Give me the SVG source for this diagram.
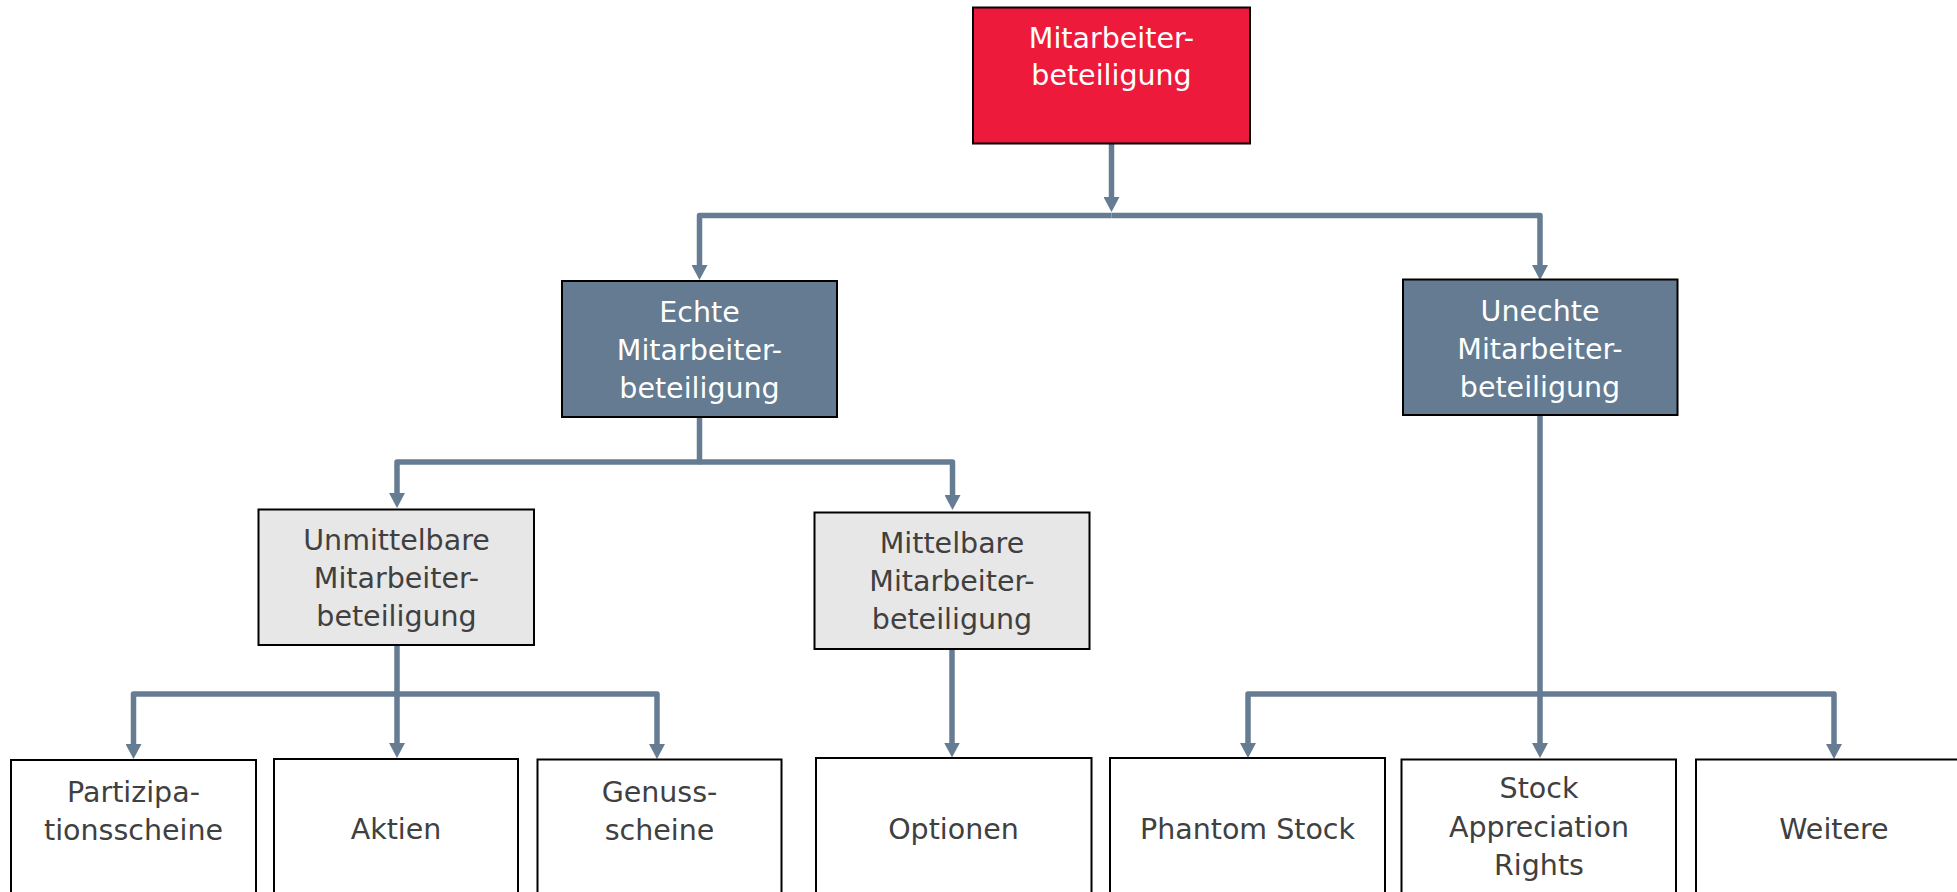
<svg xmlns="http://www.w3.org/2000/svg" width="1957" height="892" viewBox="0 0 1957 892">
<defs>
<style>
.box{stroke:#000;stroke-width:2}
.red{fill:#EE1A3C}
.dark{fill:#647B91}
.light{fill:#E7E7E7}
.white{fill:#FFFFFF}
text{font-family:"DejaVu Sans","Liberation Sans",sans-serif;font-size:28.5px;text-anchor:middle}
.tw{fill:#FFFFFF}
.tg{fill:#404040}
.conn{fill:none;stroke:#657C92;stroke-width:5.5;stroke-linejoin:round;stroke-linecap:butt}
</style>
<marker id="arr" viewBox="0 0 15 16" refX="3" refY="8" markerWidth="15" markerHeight="16" markerUnits="userSpaceOnUse" orient="auto">
<path d="M0,0 L15,8 L0,16 z" fill="#657C92"/>
</marker>
</defs>
<rect width="1957" height="892" fill="#FFFFFF"/>

<g id="connectors">
<path class="conn" d="M1111.5,143 V200" marker-end="url(#arr)"/>
<path class="conn" d="M1111.5,215.5 H699.5 V268" marker-end="url(#arr)"/>
<path class="conn" d="M1111.5,215.5 H1540 V268" marker-end="url(#arr)"/>
<path class="conn" d="M699.5,417 V462 H397 V496" marker-end="url(#arr)"/>
<path class="conn" d="M699.5,462 H952.5 V498" marker-end="url(#arr)"/>
<path class="conn" d="M397,645 V746" marker-end="url(#arr)"/>
<path class="conn" d="M397,694 H133.5 V747" marker-end="url(#arr)"/>
<path class="conn" d="M397,694 H657 V747" marker-end="url(#arr)"/>
<path class="conn" d="M952,649 V745.5" marker-end="url(#arr)"/>
<path class="conn" d="M1540,415 V746" marker-end="url(#arr)"/>
<path class="conn" d="M1540,694 H1248 V746" marker-end="url(#arr)"/>
<path class="conn" d="M1540,694 H1834 V747" marker-end="url(#arr)"/>
</g>

<g id="n-root">
<rect class="box red" x="973" y="7.5" width="277" height="136"/>
<text class="tw" x="1111.5" y="48">Mitarbeiter-</text>
<text class="tw" x="1111.5" y="85">beteiligung</text>
</g>

<g id="n-echte">
<rect class="box dark" x="562" y="281" width="275" height="136"/>
<text class="tw" x="699.5" y="321.7">Echte</text>
<text class="tw" x="699.5" y="360">Mitarbeiter-</text>
<text class="tw" x="699.5" y="398.3">beteiligung</text>
</g>

<g id="n-unechte">
<rect class="box dark" x="1403" y="279.5" width="274.5" height="135.5"/>
<text class="tw" x="1540" y="320.5">Unechte</text>
<text class="tw" x="1540" y="358.5">Mitarbeiter-</text>
<text class="tw" x="1540" y="396.7">beteiligung</text>
</g>

<g id="n-unmittelbare">
<rect class="box light" x="258.5" y="509.5" width="275.5" height="135.5"/>
<text class="tg" x="396.5" y="550">Unmittelbare</text>
<text class="tg" x="396.5" y="588.3">Mitarbeiter-</text>
<text class="tg" x="396.5" y="625.5">beteiligung</text>
</g>

<g id="n-mittelbare">
<rect class="box light" x="814.5" y="512.5" width="275" height="136.5"/>
<text class="tg" x="952" y="553.3">Mittelbare</text>
<text class="tg" x="952" y="591">Mitarbeiter-</text>
<text class="tg" x="952" y="629">beteiligung</text>
</g>

<g id="n-partizipation">
<rect class="box white" x="11" y="760" width="245" height="140"/>
<text class="tg" x="133.5" y="801.7">Partizipa-</text>
<text class="tg" x="133.5" y="840">tionsscheine</text>
</g>

<g id="n-aktien">
<rect class="box white" x="274" y="759" width="244" height="141"/>
<text class="tg" x="396" y="838.5">Aktien</text>
</g>

<g id="n-genuss">
<rect class="box white" x="537.5" y="759.5" width="244" height="141"/>
<text class="tg" x="659.5" y="801.7">Genuss-</text>
<text class="tg" x="659.5" y="840">scheine</text>
</g>

<g id="n-optionen">
<rect class="box white" x="816" y="758" width="275.5" height="142"/>
<text class="tg" x="953.5" y="838.5">Optionen</text>
</g>

<g id="n-phantom">
<rect class="box white" x="1110" y="758" width="275" height="142"/>
<text class="tg" x="1247.5" y="838.5">Phantom Stock</text>
</g>

<g id="n-sar">
<rect class="box white" x="1401.5" y="759.5" width="274.5" height="141"/>
<text class="tg" x="1539" y="798.3">Stock</text>
<text class="tg" x="1539" y="836.7">Appreciation</text>
<text class="tg" x="1539" y="875">Rights</text>
</g>

<g id="n-weitere">
<rect class="box white" x="1696" y="759.5" width="275" height="141"/>
<text class="tg" x="1834" y="839.3">Weitere</text>
</g>
</svg>
